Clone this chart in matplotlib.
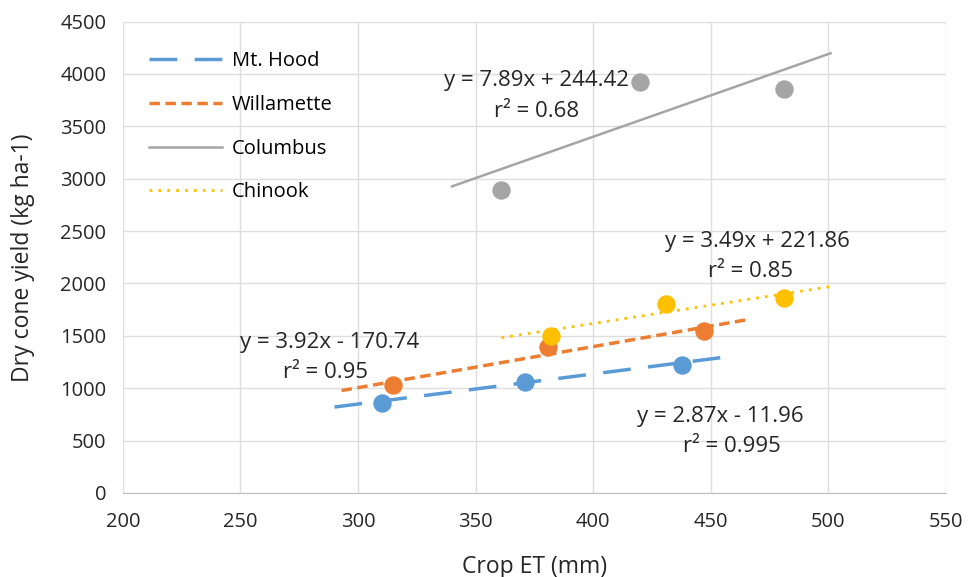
import numpy as np
import matplotlib.pyplot as plt

plt.rcParams['font.family'] = ['Open Sans', 'DejaVu Sans']

# observed points (crop ET mm, dry cone yield kg/ha)
hood_x = [310, 371, 438]
hood_y = [862, 1060, 1225]
will_x = [315, 381, 447]
will_y = [1030, 1390, 1550]
col_x = [361, 420, 481]
col_y = [2890, 3920, 3860]
chin_x = [382, 431, 481]
chin_y = [1500, 1800, 1860]

# trendline coefficients and drawn extent
hood_fit = (2.87, -11.96, 290, 458)
will_fit = (3.92, -170.74, 293, 467)
col_fit = (7.89, 244.42, 340, 501)
chin_fit = (3.49, 221.86, 361, 501)

blue = '#5B9BD5'
orange = '#ED7D31'
gray = '#A5A5A5'
yellow = '#FFC000'
txt = '#262626'

fig = plt.figure(figsize=(9.68, 5.77), dpi=100)
ax = fig.add_axes([0.127, 0.1456, 0.85, 0.817])


def trend(fit):
    a, b, x0, x1 = fit
    xs = np.array([x0, x1])
    return xs, a * xs + b


xs, ys = trend(hood_fit)
ax.plot(xs, ys, color=blue, lw=2.5, dashes=(8, 5), label='Mt. Hood', zorder=3)
xs, ys = trend(will_fit)
ax.plot(xs, ys, color=orange, lw=2.5, dashes=(3, 1.6), label='Willamette', zorder=3)
xs, ys = trend(col_fit)
ax.plot(xs, ys, color=gray, lw=1.8, label='Columbus', zorder=3)
xs, ys = trend(chin_fit)
ax.plot(xs, ys, color=yellow, lw=2, dashes=(1, 2.2), label='Chinook', zorder=3)

ms = 150
ax.scatter(hood_x, hood_y, s=ms, color=blue, zorder=4)
ax.scatter(will_x, will_y, s=ms, color=orange, zorder=4)
ax.scatter(col_x, col_y, s=ms, color=gray, zorder=4)
ax.scatter(chin_x, chin_y, s=ms, color=yellow, zorder=4)

fs = 16
ax.text(376, 3935, 'y = 7.89x + 244.42', ha='center', va='center', fontsize=fs, color=txt)
ax.text(376, 3640, 'r² = 0.68', ha='center', va='center', fontsize=fs, color=txt)
ax.text(470, 2397, 'y = 3.49x + 221.86', ha='center', va='center', fontsize=fs, color=txt)
ax.text(467, 2110, 'r² = 0.85', ha='center', va='center', fontsize=fs, color=txt)
ax.text(288, 1433, 'y = 3.92x - 170.74', ha='center', va='center', fontsize=fs, color=txt)
ax.text(286, 1146, 'r² = 0.95', ha='center', va='center', fontsize=fs, color=txt)
ax.text(454, 726, 'y = 2.87x - 11.96', ha='center', va='center', fontsize=fs, color=txt)
ax.text(459, 440, 'r² = 0.995', ha='center', va='center', fontsize=fs, color=txt)

ax.set_xlim(200, 550)
ax.set_ylim(0, 4500)
ax.set_xticks(np.arange(200, 551, 50))
ax.set_yticks(np.arange(0, 4501, 500))
ax.grid(True, color='#DEDEDE', lw=1)
ax.set_axisbelow(True)
for s in ['top', 'right', 'left']:
    ax.spines[s].set_visible(False)
ax.spines['bottom'].set_color('#BFBFBF')
ax.tick_params(length=0, labelsize=14.5, colors=txt)
ax.tick_params(axis='y', pad=12)
ax.tick_params(axis='x', pad=14)
ax.set_xlabel('Crop ET (mm)', fontsize=16.5, color=txt, labelpad=16)
ax.set_ylabel('Dry cone yield (kg ha-1)', fontsize=16.5, color=txt, labelpad=18)

ax.legend(loc='upper left', bbox_to_anchor=(0.01, 0.975), frameon=False, fontsize=14.5,
          labelspacing=1.17, handlelength=3.6, handletextpad=0.5)

fig.savefig('out.png', dpi=100)
